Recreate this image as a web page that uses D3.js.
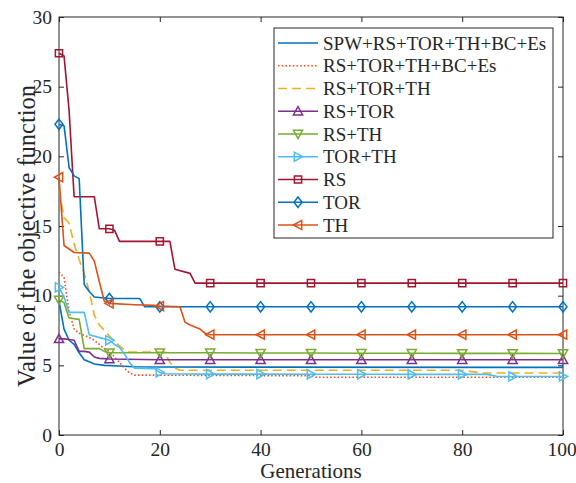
<!DOCTYPE html>
<html>
<head>
<meta charset="utf-8">
<script src="https://cdn.jsdelivr.net/npm/d3@7"></script>
<style>
  body { margin: 0; background: #fff; }
  svg { display: block; }
  svg text { font-family: "Liberation Serif", "Times New Roman", "DejaVu Serif", serif; fill: #262626; }
</style>
</head>
<body>
<svg id="chart" width="576" height="483"></svg>
<script>
// Axis ticks
const xTicks = [0, 20, 40, 60, 80, 100];
const yTicks = [0, 5, 10, 15, 20, 25, 30];

// Best objective value per generation, as [generation, value] breakpoints
const spw = [[0,9.6],[1,7.6],[2,6.8],[3,6.5],[4,5.9],[5,5.4],[6,5.25],[7,5.1],[9,5.0],[12,4.95],[15,4.9],[20,4.88],[100,4.85]];
const rsTorThBcEs = [[0,11.7],[1,11.3],[2,8.9],[3,7.6],[4,7.3],[5,7.15],[6,7.0],[7,6.8],[8,6.5],[9,6.2],[10,6.0],[11,5.6],[12,5.2],[13,4.8],[14,4.45],[15,4.3],[50,4.25],[51,4.15],[100,4.15]];
const rsTorTh = [[0,17.6],[1,15.6],[2,15.2],[3,13.7],[4,12.6],[5,11.6],[6,10.3],[7,8.6],[8,7.9],[9,7.5],[10,7.1],[11,6.7],[12,6.4],[13,6.1],[14,5.95],[21,5.95],[22,5.2],[23,4.8],[24,4.65],[80,4.65],[84,4.45],[100,4.45]];
const rsTor = [[0,6.9],[1,6.9],[2,6.85],[3,6.8],[4,6.0],[5,6.0],[6,5.95],[7,5.6],[8,5.5],[10,5.45],[20,5.4],[30,5.4],[40,5.4],[50,5.4],[60,5.4],[70,5.4],[80,5.4],[90,5.4],[100,5.4]];
const rsTh = [[0,9.7],[1,9.5],[2,8.4],[4,8.3],[5,6.2],[6,6.2],[8,6.2],[9,6.0],[10,5.9],[20,5.9],[30,5.9],[40,5.88],[50,5.88],[60,5.87],[70,5.87],[80,5.86],[90,5.86],[100,5.85]];
const torTh = [[0,10.6],[1,9.9],[2,8.8],[5,8.8],[6,7.2],[9,6.9],[10,6.8],[11,6.5],[12,6.3],[13,5.8],[14,5.2],[15,4.8],[19,4.75],[20,4.5],[21,4.4],[30,4.37],[40,4.37],[50,4.36],[60,4.36],[70,4.35],[80,4.35],[85,4.35],[87,4.2],[90,4.2],[100,4.2]];
const rs = [[0,27.4],[1,27.2],[2,23.3],[3,17.1],[7,17.1],[8,14.8],[10,14.8],[11,14.7],[12,13.9],[20,13.9],[22,13.9],[23,11.9],[26,11.6],[27,10.9],[30,10.9],[40,10.9],[50,10.9],[60,10.9],[70,10.9],[80,10.9],[90,10.9],[100,10.9]];
const tor = [[0,22.3],[1,22.2],[2,19.2],[3,18.6],[4,18.4],[5,10.8],[6,10.3],[7,9.9],[10,9.8],[16,9.8],[17,9.2],[20,9.2],[30,9.2],[40,9.2],[50,9.2],[60,9.2],[70,9.2],[80,9.2],[90,9.2],[100,9.2]];
const th = [[0,18.5],[1,13.6],[3,13.1],[6,13.05],[7,12.5],[8,11.0],[9,9.6],[10,9.45],[15,9.35],[19,9.3],[20,9.25],[24,9.2],[25,8.1],[26,7.9],[28,7.6],[29,7.3],[30,7.2],[40,7.2],[50,7.2],[60,7.2],[70,7.2],[80,7.2],[90,7.2],[100,7.2]];

const series = [
  { name: "SPW+RS+TOR+TH+BC+Es", data: spw,         color: "#0072BD", dash: null,      marker: null },
  { name: "RS+TOR+TH+BC+Es",     data: rsTorThBcEs, color: "#F24A1A", dash: "1.5,2.2", marker: null },
  { name: "RS+TOR+TH",           data: rsTorTh,     color: "#EDB120", dash: "9,5",     marker: null },
  { name: "RS+TOR",              data: rsTor,       color: "#7E2F8E", dash: null,      marker: "up" },
  { name: "RS+TH",               data: rsTh,        color: "#77AC30", dash: null,      marker: "down" },
  { name: "TOR+TH",              data: torTh,       color: "#4DBEEE", dash: null,      marker: "right" },
  { name: "RS",                  data: rs,          color: "#A2142F", dash: null,      marker: "square" },
  { name: "TOR",                 data: tor,         color: "#0072BD", dash: null,      marker: "diamond" },
  { name: "TH",                  data: th,          color: "#D95319", dash: null,      marker: "left" }
];

const svg = d3.select("#chart");
const plotL = 59, plotR = 563, plotT = 17, plotB = 435;
const x = d3.scaleLinear().domain([0, 100]).range([plotL, plotR]);
const y = d3.scaleLinear().domain([0, 30]).range([plotB, plotT]);
const axisColor = "#262626";
const fontFamily = '"Liberation Serif", "Times New Roman", "DejaVu Serif", serif';
const tickFont = 19.5;

// Marker outline centred on (0,0)
function markerPath(type) {
  const r = 4.6;
  switch (type) {
    case "square": return "M-3.6,-3.6H3.6V3.6H-3.6Z";
    case "diamond": return "M0,-5.2L4,0L0,5.2L-4,0Z";
    case "up": return `M0,${-r}L${r},${r * 0.8}L${-r},${r * 0.8}Z`;
    case "down": return `M0,${r}L${r},${-r * 0.8}L${-r},${-r * 0.8}Z`;
    case "right": return `M${r},0L${-r * 0.8},${-r}L${-r * 0.8},${r}Z`;
    case "left": return `M${-r},0L${r * 0.8},${-r}L${r * 0.8},${r}Z`;
  }
  return "";
}

// Axes: bottom/left with labels, top/right mirrored, ticks pointing inward
const gx = svg.append("g").attr("transform", `translate(0,${plotB})`)
  .call(d3.axisBottom(x).tickValues(xTicks).tickSizeInner(-5).tickSizeOuter(0).tickPadding(7));
const gy = svg.append("g").attr("transform", `translate(${plotL},0)`)
  .call(d3.axisLeft(y).tickValues(yTicks).tickSizeInner(-5).tickSizeOuter(0).tickPadding(7));
const gxt = svg.append("g").attr("transform", `translate(0,${plotT})`)
  .call(d3.axisTop(x).tickValues(xTicks).tickSizeInner(-5).tickSizeOuter(0).tickFormat(""));
const gyr = svg.append("g").attr("transform", `translate(${plotR},0)`)
  .call(d3.axisRight(y).tickValues(yTicks).tickSizeInner(-5).tickSizeOuter(0).tickFormat(""));
[gx, gy, gxt, gyr].forEach(g => {
  g.attr("font-family", fontFamily).attr("font-size", tickFont);
  g.select(".domain").remove();
  g.selectAll("line").attr("stroke", axisColor).attr("stroke-width", 1);
  g.selectAll("text").attr("fill", axisColor);
});
// keep the last x label inside the canvas edge
gx.selectAll("text").filter(d => d === 100).attr("dx", -1.5);

svg.append("rect").attr("x", plotL).attr("y", plotT)
  .attr("width", plotR - plotL).attr("height", plotB - plotT)
  .attr("fill", "none").attr("stroke", axisColor).attr("stroke-width", 1);

// Curves
const line = d3.line().x(d => x(d[0])).y(d => y(d[1]));
const plot = svg.append("g");
series.forEach(s => {
  const g = plot.append("g");
  g.append("path").datum(s.data).attr("d", line)
    .attr("fill", "none").attr("stroke", s.color).attr("stroke-width", 1.6)
    .attr("stroke-linejoin", "round")
    .attr("stroke-dasharray", s.dash);
  if (s.marker) {
    g.selectAll("path.mk").data(s.data.filter(d => d[0] % 10 === 0)).enter()
      .append("path").attr("class", "mk")
      .attr("transform", d => `translate(${x(d[0])},${y(d[1])})`)
      .attr("d", markerPath(s.marker))
      .attr("fill", "none").attr("stroke", s.color).attr("stroke-width", 1.5);
  }
});

// Axis titles
svg.append("text").attr("x", (plotL + plotR) / 2).attr("y", 477.5)
  .attr("text-anchor", "middle").attr("font-size", 21).text("Generations");
svg.append("text").attr("transform", `translate(35,236) rotate(-90)`)
  .attr("text-anchor", "middle").attr("font-size", 24.5).text("Value of the objective function");

// Legend
const lg = svg.append("g");
const lgX = 274, lgY = 28, lgW = 279, lgH = 210, rowH = 22.75;
lg.append("rect").attr("x", lgX).attr("y", lgY).attr("width", lgW).attr("height", lgH)
  .attr("fill", "#fff").attr("stroke", axisColor).attr("stroke-width", 1);
series.forEach((s, i) => {
  const cy = 43 + i * rowH;
  lg.append("line").attr("x1", 278).attr("x2", 318).attr("y1", cy).attr("y2", cy)
    .attr("stroke", s.color).attr("stroke-width", 1.6).attr("stroke-dasharray", s.dash);
  if (s.marker) {
    lg.append("path").attr("transform", `translate(298,${cy})`).attr("d", markerPath(s.marker))
      .attr("fill", "none").attr("stroke", s.color).attr("stroke-width", 1.5);
  }
  lg.append("text").attr("x", 323).attr("y", cy).attr("dy", "0.35em")
    .attr("font-size", 19).text(s.name);
});
</script>
</body>
</html>
